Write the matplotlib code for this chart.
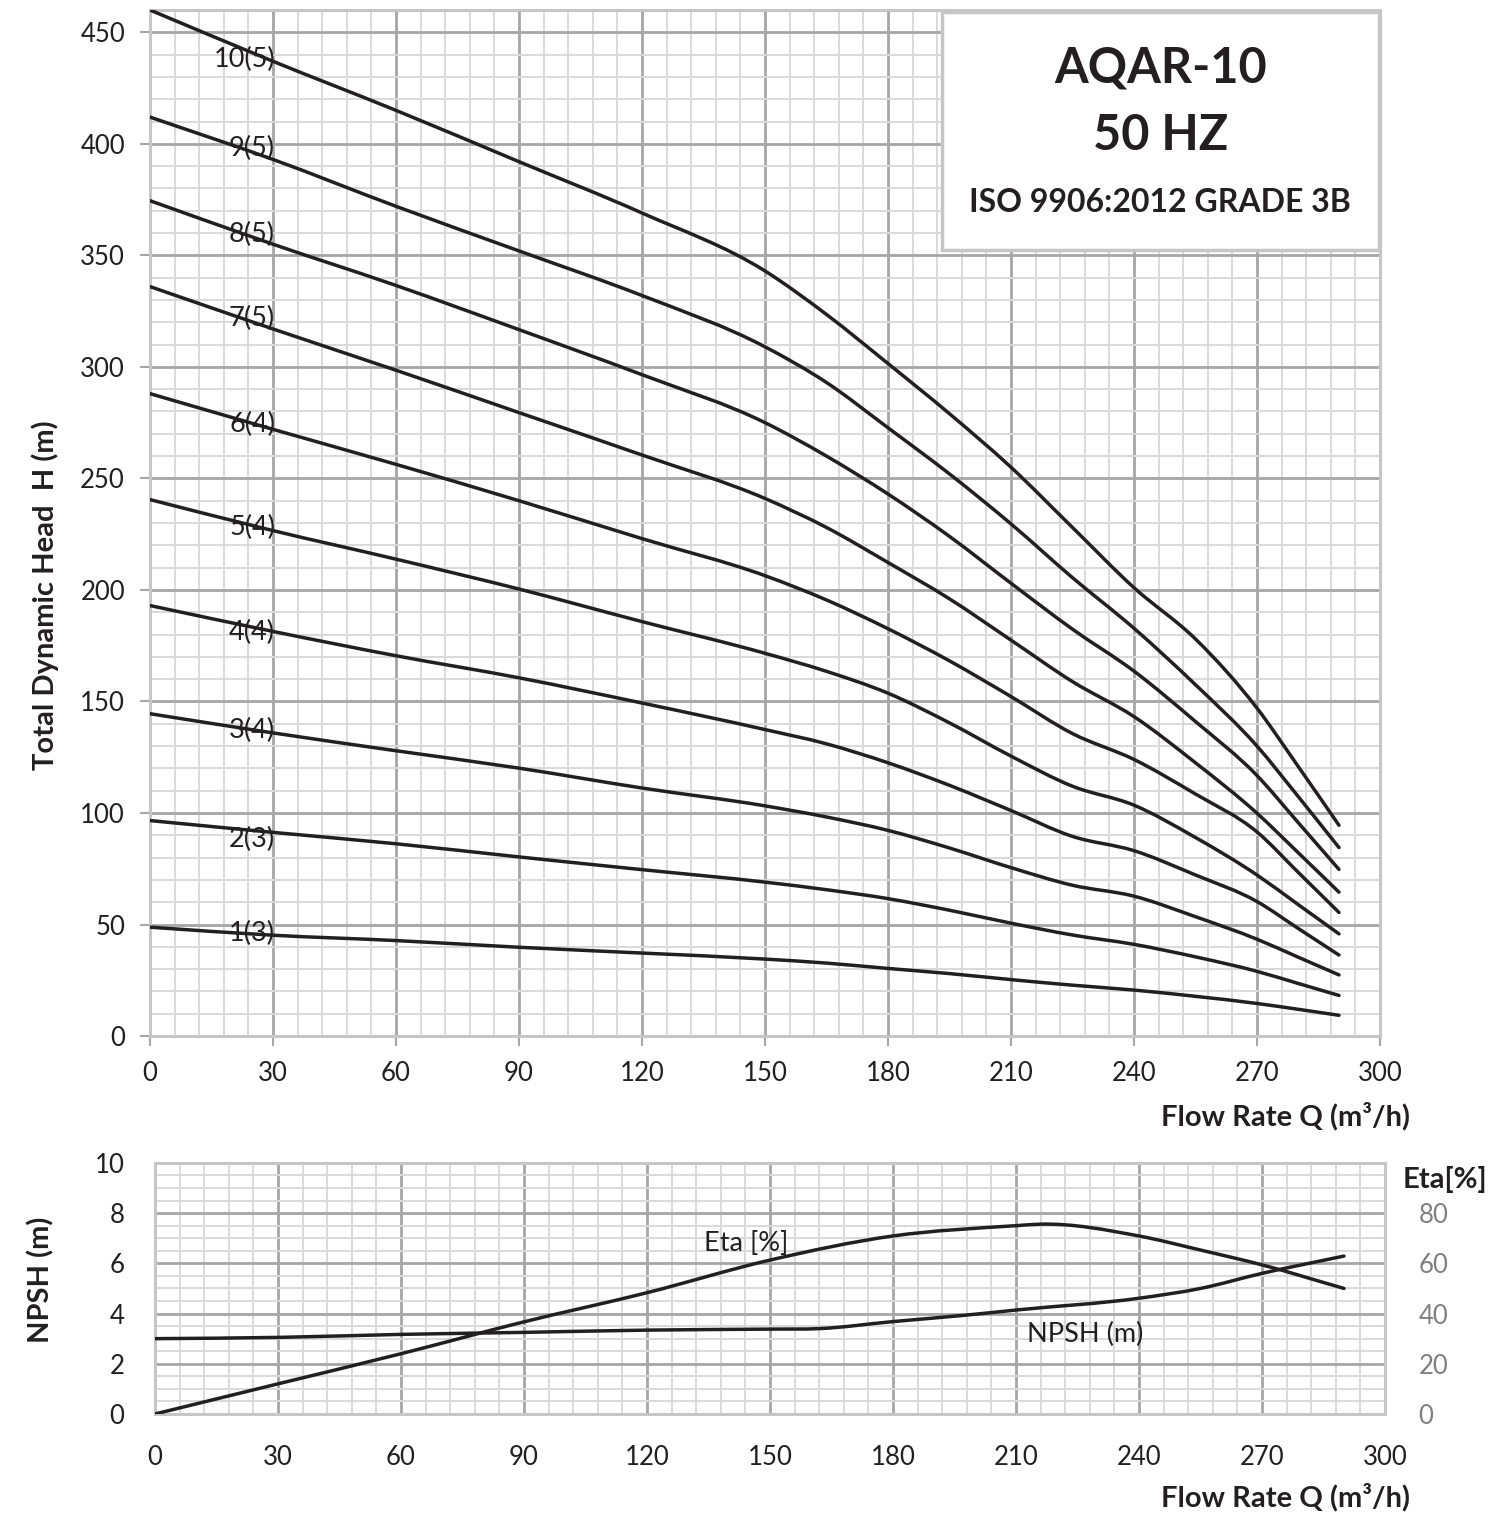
import matplotlib
matplotlib.use("Agg")
import matplotlib.pyplot as plt
import numpy as np
from matplotlib.ticker import MultipleLocator
from matplotlib.patches import Rectangle, PathPatch
from matplotlib.path import Path

plt.rcParams['font.family'] = ['Lato', 'DejaVu Sans']

# flow rate points (m3/h) for the head curves
flow = [0, 30, 60, 90, 120, 150, 165, 180, 195, 210, 225, 240, 255, 270, 280, 290]

# head curves (m), one per stage count
h10 = [460, 437, 415, 392, 369, 343, 323.5, 301.5, 279, 255, 228, 201, 178, 147, 121, 94.5]
h9 = [412, 393, 372, 352, 332, 309, 293, 272.7, 252, 229.6, 205.5, 182.8, 157.5, 130, 107.5, 84.5]
h8 = [374.5, 355, 336.5, 316.7, 296.5, 275, 260, 243, 224, 203, 182.4, 163.6, 141, 116.8, 95.8, 74.7]
h7 = [336, 317, 298.5, 279.5, 260.5, 241, 228, 212.3, 196, 177.5, 158.9, 143.2, 122.5, 99.9, 82.3, 64.5]
h6 = [288, 272, 256.3, 240, 223, 206.4, 195.5, 182.6, 168.2, 152.2, 135.6, 124, 108.5, 91.5, 73.5, 55.4]
h5 = [240.5, 226.6, 213.8, 200.4, 185.8, 171.6, 163.5, 153.7, 140.4, 125.5, 112, 103.5, 89, 72.2, 59, 45.8]
h4 = [193, 181.4, 170.5, 160.6, 149.3, 137.4, 131, 122.5, 112.4, 101.1, 89.5, 83.1, 72.2, 60.3, 48.3, 36.3]
h3 = [144.5, 135.9, 127.9, 120.1, 111.2, 103.2, 98.2, 92.2, 84.3, 75.5, 67.6, 62.7, 53.5, 43.4, 35.4, 27.4]
h2 = [96.6, 91.3, 86.2, 80.3, 74.6, 69, 65.6, 61.6, 56.4, 50.6, 45.3, 41.1, 35.5, 29, 23.6, 18.2]
h1 = [48.8, 45.2, 42.8, 39.8, 37.2, 34.5, 32.7, 30.3, 28, 25.3, 22.8, 20.6, 17.8, 14.6, 12, 9.3]

heads = [h10, h9, h8, h7, h6, h5, h4, h3, h2, h1]
labels = ["10(5)", "9(5)", "8(5)", "7(5)", "6(4)", "5(4)", "4(4)", "3(4)", "2(3)", "1(3)"]
label_y = [438, 398, 359.5, 321.5, 274, 228, 181, 137, 88, 46]

# NPSH and efficiency
npsh_q = [0, 30, 60, 90, 120, 150, 162, 180, 198, 210, 240, 255, 270, 290]
npsh = [3.0, 3.05, 3.17, 3.25, 3.34, 3.38, 3.4, 3.68, 3.94, 4.14, 4.61, 5.0, 5.6, 6.29]
eta_q = [0, 30, 60, 90, 120, 150, 180, 210, 216, 240, 255, 270, 290]
eta = [0, 12, 24, 36.7, 48.3, 61.3, 70.9, 75, 75.6, 70.9, 65.3, 59.4, 50]

ink = '#231f20'
major_c = '#a6a6a8'
minor_c = '#d9d9d9'
frame_c = '#c6c6c6'


def curve(a, xs, ys):
    # smooth line through the points: cubic Hermite pieces drawn as Bezier segments
    x = np.asarray(xs, float)
    y = np.asarray(ys, float)
    h = np.diff(x)
    s = np.diff(y) / h
    m = np.empty_like(y)
    m[0], m[-1] = s[0], s[-1]
    m[1:-1] = (s[:-1] * h[1:] + s[1:] * h[:-1]) / (h[:-1] + h[1:])
    verts = [(x[0], y[0])]
    codes = [Path.MOVETO]
    for i in range(len(x) - 1):
        d = h[i] / 3
        verts += [(x[i] + d, y[i] + m[i] * d), (x[i + 1] - d, y[i + 1] - m[i + 1] * d), (x[i + 1], y[i + 1])]
        codes += [Path.CURVE4] * 3
    a.add_patch(PathPatch(Path(verts, codes), fill=False, edgecolor=ink, lw=2.5,
                          capstyle='round', joinstyle='round', zorder=3))


fig = plt.figure(figsize=(15.09, 15.16), dpi=100)
ax = fig.add_axes([0.0994, 0.3166, 0.8151, 0.6768])
ax2 = fig.add_axes([0.1027, 0.0673, 0.8151, 0.1656])


def dress(a, ymaj, ymin):
    a.set_xlim(0, 300)
    a.xaxis.set_major_locator(MultipleLocator(30))
    a.xaxis.set_minor_locator(MultipleLocator(6))
    a.yaxis.set_major_locator(MultipleLocator(ymaj))
    a.yaxis.set_minor_locator(MultipleLocator(ymin))
    a.grid(which='major', color=major_c, lw=2.0, zorder=1)
    a.grid(which='minor', color=minor_c, lw=1.4, zorder=0)
    a.set_axisbelow(True)
    for s in a.spines.values():
        s.set_color(frame_c)
        s.set_linewidth(2.2)
    a.tick_params(which='minor', length=0)
    a.tick_params(axis='both', labelsize=18.5, colors=ink)


# ---- head curves
dress(ax, 50, 10)
ax.set_ylim(0, 460)
ax.tick_params(which='major', length=7, width=1.5, color=major_c, pad=11)
for hd in heads:
    curve(ax, flow, hd)
for t, y in zip(labels, label_y):
    ax.text(30.5, y, t, ha='right', va='center', fontsize=19.5, color=ink, zorder=4)
ax.text(-0.0854, 0.43, "Total Dynamic Head  H (m)", transform=ax.transAxes, rotation=90,
        ha='center', va='center', fontsize=21, fontweight='bold', color=ink)
ax.text(1.0245, -0.078, "Flow Rate Q (m³/h)", transform=ax.transAxes, ha='right', va='center',
        fontsize=21, fontweight='bold', color=ink)

box = Rectangle((0.644, 0.766), 0.355, 0.232, transform=ax.transAxes, facecolor='white',
                edgecolor=frame_c, lw=2.5, zorder=5)
ax.add_patch(box)
ax.text(0.8215, 0.943, "AQAR-10", transform=ax.transAxes, ha='center', va='center',
        fontsize=35, fontweight='bold', color=ink, zorder=6)
ax.text(0.8215, 0.878, "50 HZ", transform=ax.transAxes, ha='center', va='center',
        fontsize=35, fontweight='bold', color=ink, zorder=6)
ax.text(0.8215, 0.812, "ISO 9906:2012 GRADE 3B", transform=ax.transAxes, ha='center', va='center',
        fontsize=23, fontweight='bold', color=ink, zorder=6)

# ---- NPSH / Eta
dress(ax2, 2, 0.5)
ax2.set_ylim(0, 10)
ax2.tick_params(which='major', length=0, pad=22)
curve(ax2, npsh_q, npsh)
ax2.text(-0.093, 0.534, "NPSH (m)", transform=ax2.transAxes, rotation=90,
         ha='center', va='center', fontsize=21, fontweight='bold', color=ink)

ax3 = ax2.twinx()
ax3.set_ylim(0, 100)
ax3.set_yticks([0, 20, 40, 60, 80])
ax3.tick_params(length=0, labelsize=18.5, colors='#808080', pad=24)
for s in ax3.spines.values():
    s.set_visible(False)
curve(ax3, eta_q, eta)

ax2.text(154.5, 6.81, "Eta [%]", ha='right', va='center', fontsize=19.5, color=ink, zorder=4)
ax2.text(212.7, 3.15, "NPSH (m)", ha='left', va='center', fontsize=19.5, color=ink, zorder=4)
ax2.text(1.049, 0.932, "Eta[%]", transform=ax2.transAxes, ha='center', va='center',
         fontsize=21, fontweight='bold', color=ink)
ax2.text(1.0205, -0.33, "Flow Rate Q (m³/h)", transform=ax2.transAxes, ha='right', va='center',
         fontsize=21, fontweight='bold', color=ink)

fig.savefig("out.png", dpi=100)
